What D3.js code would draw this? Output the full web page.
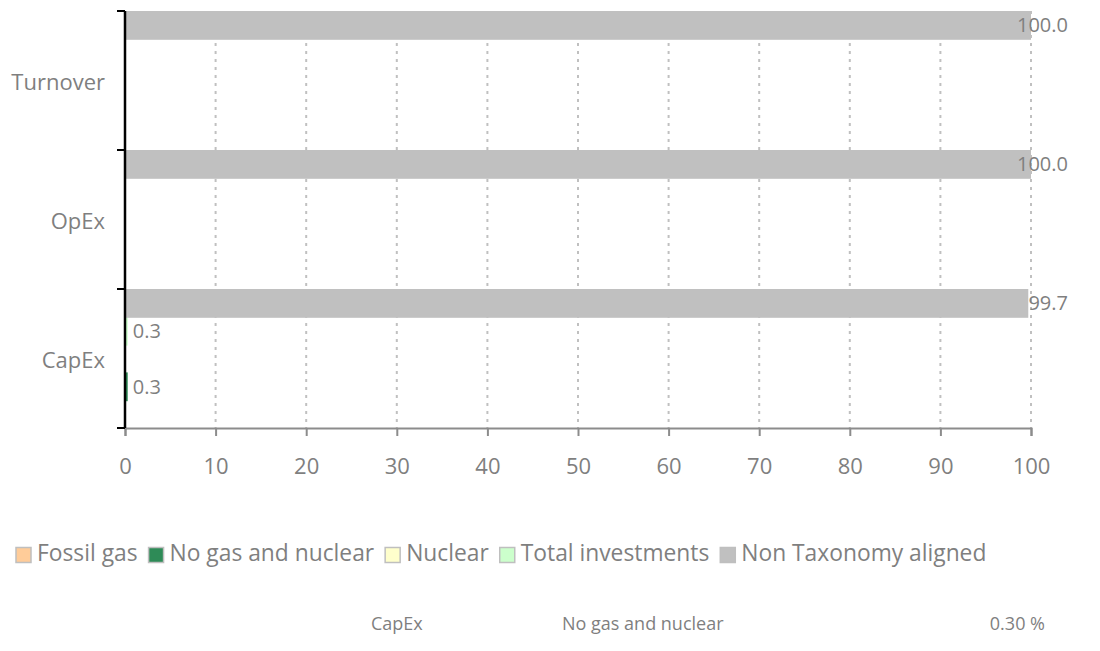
<!DOCTYPE html>
<html><head><meta charset="utf-8">
<script src="https://cdn.jsdelivr.net/npm/d3@7"></script>
<style>
body{margin:0;background:#fff;}
svg text{font-family:"Open Sans","Noto Sans",sans-serif;fill:#7f7f7f;}
</style></head>
<body><svg id="c" width="1100" height="651"></svg>
<script>
const categories = ["Turnover", "OpEx", "CapEx"];
const seriesNames = ["Fossil gas", "No gas and nuclear", "Nuclear", "Total investments", "Non Taxonomy aligned"];
const seriesColors = ["#ffcc99", "#2e8b57", "#ffffcc", "#ccffcc", "#c0c0c0"];
const fossilGas = [0, 0, 0];
const noGasNuclear = [0, 0, 0.3];
const nuclear = [0, 0, 0];
const totalInvestments = [0, 0, 0.3];
const nonTaxonomy = [100, 100, 99.7];
const xTicks = [0, 10, 20, 30, 40, 50, 60, 70, 80, 90, 100];
const tableRow = ["CapEx", "No gas and nuclear", "0.30 %"];

const seriesValues = [fossilGas, noGasNuclear, nuclear, totalInvestments, nonTaxonomy];
const svg = d3.select("#c");
const x = d3.scaleLinear().domain([0, 100]).range([125, 1031]);
const y = d3.scaleBand().domain(categories).range([11, 428]);
const sub = d3.scaleBand().domain(seriesNames.slice().reverse()).range([0, y.bandwidth()]);

// gridlines
svg.append("g").selectAll("line").data(xTicks.filter(d => d > 0)).join("line")
  .attr("x1", d => x(d)).attr("x2", d => x(d)).attr("y1", 11).attr("y2", 428)
  .attr("stroke", "#c0c0c0").attr("stroke-width", 2).attr("stroke-dasharray", "3,5");

// bars
const data = [];
seriesNames.forEach((s, si) => categories.forEach((c, ci) => {
  data.push({s, c, v: seriesValues[si][ci], color: seriesColors[si]});
}));
svg.append("g").selectAll("rect").data(data.filter(d => d.v > 0)).join("rect")
  .attr("x", x(0)).attr("y", d => y(d.c) + sub(d.s))
  .attr("width", d => x(d.v) - x(0)).attr("height", sub.bandwidth() + 1)
  .attr("fill", d => d.color);

// x axis
const xa = svg.append("g").attr("transform", "translate(0,428)")
  .call(d3.axisBottom(x).tickValues(xTicks).tickSize(8).tickPadding(22).tickFormat(d3.format("d")));
xa.select(".domain").attr("stroke", "#8c8c8c").attr("stroke-width", 2);
xa.selectAll(".tick line").attr("stroke", "#8c8c8c").attr("stroke-width", 2);
xa.selectAll("text").attr("font-size", 22).style("fill", "#7f7f7f");

// y axis
const ya = svg.append("g").attr("transform", "translate(125,0)")
  .call(d3.axisLeft(y).tickSize(0).tickPadding(20));
ya.select(".domain").remove();
ya.selectAll("text").attr("font-size", 22).attr("dy", "0.42em").style("fill", "#7f7f7f");
svg.append("line").attr("x1", 125).attr("x2", 125).attr("y1", 11).attr("y2", 428)
  .attr("stroke", "#000").attr("stroke-width", 2.5);
svg.append("g").selectAll("line").data(categories.map(c => y(c)).concat([428])).join("line")
  .attr("x1", 117).attr("x2", 125).attr("y1", d => d).attr("y2", d => d)
  .attr("stroke", "#000").attr("stroke-width", 2);

// value labels
svg.append("g").selectAll("text").data(data.filter(d => d.v > 0)).join("text")
  .attr("y", d => y(d.c) + sub(d.s) + sub.bandwidth() / 2 + 2)
  .attr("dominant-baseline", "middle").attr("font-size", 20)
  .text(d => d3.format(".1f")(d.v))
  .each(function(d) {
    const w = this.getComputedTextLength();
    d3.select(this).attr("x", Math.min(x(d.v) + 5, 1068 - w));
  });

// legend
const lg = svg.append("g").attr("transform", "translate(15,555)");
let lx = 0;
seriesNames.forEach((s, i) => {
  const g = lg.append("g").attr("transform", `translate(${lx},0)`);
  g.append("rect").attr("x", 1).attr("y", -7.5).attr("width", 15).attr("height", 15)
    .attr("fill", seriesColors[i]).attr("stroke", "#bfbfbf").attr("stroke-width", 1.5);
  const t = g.append("text").attr("x", 22).attr("y", 0).attr("dominant-baseline", "middle")
    .attr("font-size", 22.8).text(s);
  lx += 22 + t.node().getComputedTextLength() + 10;
});

// table row
const tr = svg.append("g").attr("font-size", 18);
tr.append("text").attr("x", 371).attr("y", 625).attr("dominant-baseline", "middle").text(tableRow[0]);
tr.append("text").attr("x", 562).attr("y", 625).attr("dominant-baseline", "middle").text(tableRow[1]);
tr.append("text").attr("x", 1045).attr("y", 625).attr("text-anchor", "end").attr("dominant-baseline", "middle").text(tableRow[2]);
</script></body></html>
